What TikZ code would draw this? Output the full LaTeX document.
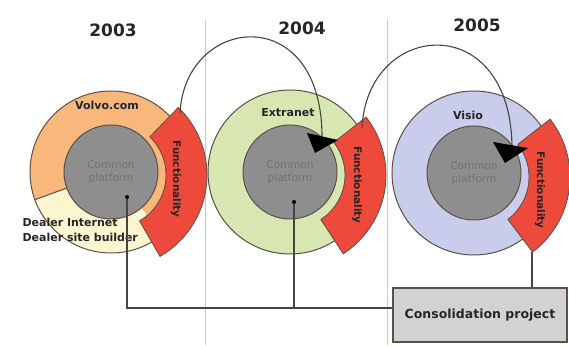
\documentclass[tikz,border=0pt]{standalone}
\usepackage{fontspec}
\setmainfont{DejaVu Sans}
\definecolor{ringorange}{HTML}{F8B77B}
\definecolor{ringcream}{HTML}{FBF6CF}
\definecolor{ringgreen}{HTML}{D8E6B2}
\definecolor{ringblue}{HTML}{C9CCEA}
\definecolor{redarc}{HTML}{EE4A3B}
\definecolor{core}{HTML}{8E8E8E}
\definecolor{coretext}{HTML}{727272}
\definecolor{outline}{HTML}{5A5048}
\definecolor{boxfill}{HTML}{D2D2D2}
\definecolor{sepline}{HTML}{C8C8C8}
\definecolor{wirecol}{HTML}{454545}
\begin{document}
\begin{tikzpicture}[x=1pt,y=1pt,
  ringline/.style={draw=outline, line width=1pt},
  corestyle/.style={circle, fill=core, draw=outline, line width=1pt, minimum size=94pt, inner sep=0pt, align=center, font=\fontsize{10.5}{13}\selectfont, text=coretext},
  funcarc/.style={fill=redarc, draw=outline, line width=0.8pt},
  lbl/.style={font=\bfseries\fontsize{11}{15}\selectfont, text=black!85},
  yearlbl/.style={font=\bfseries\fontsize{17}{19}\selectfont, text=black!85},
  functext/.style={font=\bfseries\fontsize{10.5}{12}\selectfont, rotate=-90, text=black!85},
  wire/.style={draw=wirecol, line width=1.1pt},
  sep/.style={draw=sepline, line width=0.8pt},
  dotstyle/.style={circle, fill=black, inner sep=0pt, minimum size=4pt},
  tipfill/.style={fill=black},
  boxstyle/.style={draw=outline, fill=boxfill, line width=1.4pt, minimum width=174pt, minimum height=54pt, inner sep=0pt, font=\bfseries\fontsize{12.5}{14}\selectfont, text=black!85}
]
\useasboundingbox (0,0) rectangle (569,345);
\fill[white] (0,0) rectangle (569,345);

% separators
\coordinate (sa1) at (205,325); \coordinate (sa2) at (205,0);
\coordinate (sb1) at (387,325); \coordinate (sb2) at (387,0);
\draw[sep] (sa1) -- (sa2);
\draw[sep] (sb1) -- (sb2);

% years
\node[yearlbl] (y1) at (113,315) {2003};
\node[yearlbl] (y2) at (302,317) {2004};
\node[yearlbl] (y3) at (477,320) {2005};

% ---------- unit 1 ----------
\coordinate (c1) at (111,173);
\fill[ringorange] (c1) circle[radius=81];
\fill[ringcream, shift={(c1)}] (200:81) arc[start angle=200,end angle=310,radius=81] -- (310:47) arc[start angle=310,end angle=200,radius=47] -- cycle;
\draw[ringline, shift={(c1)}] (200:47) -- (200:81);
\draw[ringline] (c1) circle[radius=81];
\node[corestyle] (core1) at (c1) {Common\\platform};
\coordinate (rc1) at (113,170);
\path[funcarc, shift={(rc1)}] (46:53) arc[start angle=46,end angle=-60,radius=53] -- (-60:94) arc[start angle=-60,end angle=46,radius=94] -- cycle;
\node[functext] (f1) at (176,166) {Functionality};
\node[lbl] (l1) at (107,240) {Volvo.com};
\node[lbl, align=left, anchor=west] (l1b) at (19,115.5) {Dealer Internet\\Dealer site builder};

% ---------- unit 2 ----------
\coordinate (c2) at (290,173);
\fill[ringgreen] (c2) circle[radius=82];
\draw[ringline] (c2) circle[radius=82];
\node[corestyle] (core2) at (c2) {Common\\platform};
\coordinate (rc2) at (292,170);
\path[funcarc, shift={(rc2)}] (38:53) arc[start angle=38,end angle=-57,radius=53] -- (-57:94) arc[start angle=-57,end angle=38,radius=94] -- cycle;
\node[functext] (f2) at (357,160) {Functionality};
\node[lbl] (l2) at (288,232) {Extranet};

% ---------- unit 3 ----------
\coordinate (c3) at (474,172);
\fill[ringblue] (c3) circle[radius=82];
\draw[ringline] (c3) circle[radius=82];
\node[corestyle] (core3) at (c3) {Common\\platform};
\coordinate (rc3) at (476,168);
\path[funcarc, shift={(rc3)}] (38:53) arc[start angle=38,end angle=-53,radius=53] -- (-53:94) arc[start angle=-53,end angle=38,radius=94] -- cycle;
\node[functext] (f3) at (540,155) {Functionality};
\node[lbl] (l3) at (468,230) {Visio};

% ---------- migration arrows ----------
\coordinate (s1) at (180,232);
\coordinate (e1) at (322,208);
\draw[wire] (s1) .. controls (185,330) and (322,345) .. (e1);
\fill[tipfill] (307,212) -- (338,205) -- (315,192) -- cycle;

\coordinate (s2) at (362,217);
\coordinate (e2) at (512,196);
\draw[wire] (s2) .. controls (367,325) and (512,337) .. (e2);
\fill[tipfill] (493,203) -- (528,197) -- (505,182) -- cycle;

% ---------- consolidation ----------
\node[boxstyle] (box) at (480,30) {Consolidation project};
\node[dotstyle] (d1) at (127,148) {};
\node[dotstyle] (d2) at (294,143) {};
\coordinate (h1) at (127,37);
\coordinate (h2) at (294,37);
\coordinate (r3b) at (532,93);
\draw[wire] (d1) -- (h1) -- (h1 -| box.west);
\draw[wire] (d2) -- (h2);
\draw[wire] (r3b) -- (r3b |- box.north);
\end{tikzpicture}
\end{document}
